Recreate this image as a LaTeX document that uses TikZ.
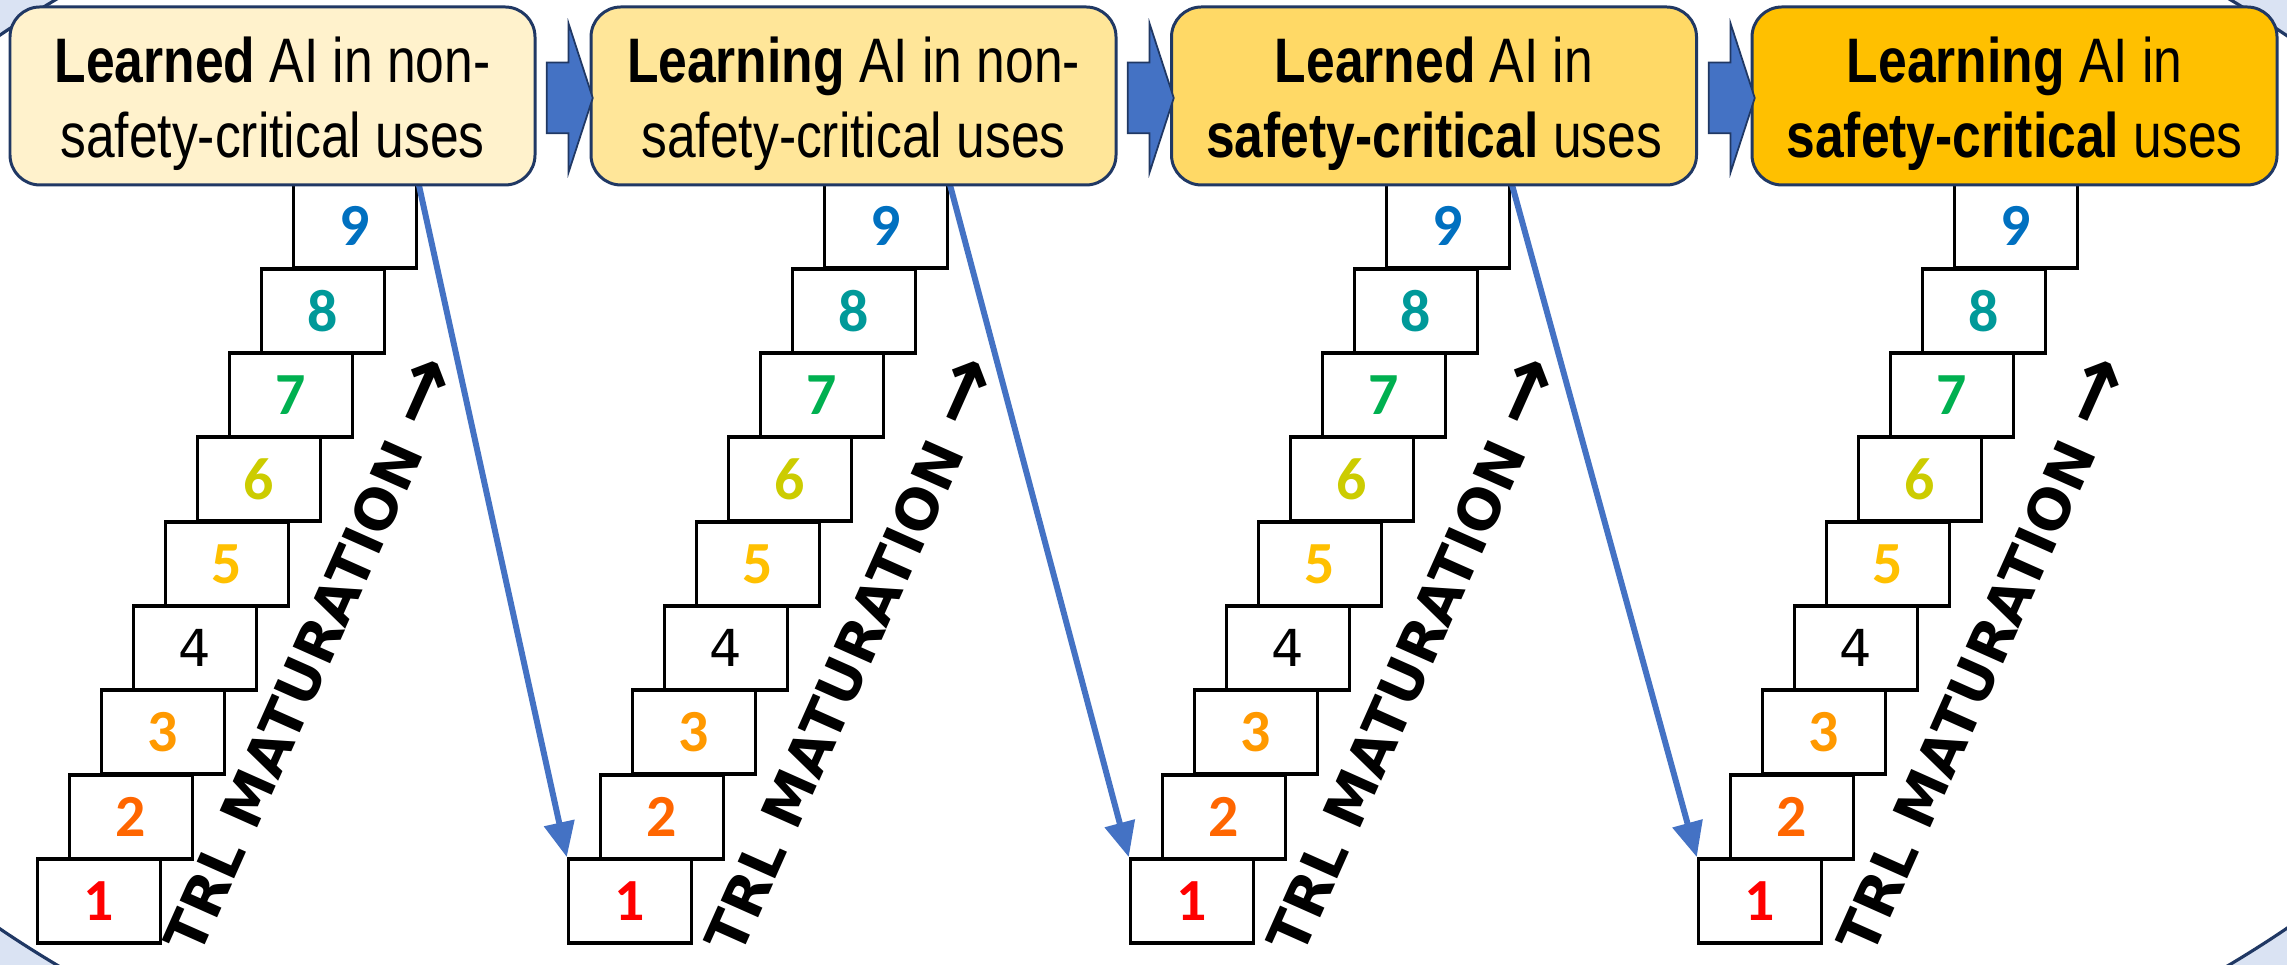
\documentclass[tikz,border=0pt]{standalone}
\usepackage{fontspec}
\usepackage{xcolor}
\usepackage{tikz}
\usetikzlibrary{arrows.meta,shapes.arrows}
\newfontfamily\titlefont{Liberation Sans}[FakeStretch=0.82]
\newfontfamily\digitfont{Carlito}
\newfontfamily\trlfont{DejaVu Sans}
\newcommand{\topstrut}{\rule{0pt}{17.5pt}}
\definecolor{navy}{HTML}{203864}
\definecolor{bgblue}{HTML}{DAE3F3}
\definecolor{arrblue}{HTML}{4472C4}
\definecolor{cream1}{HTML}{FFF2CC}
\definecolor{cream2}{HTML}{FFE699}
\definecolor{cream3}{HTML}{FFD966}
\definecolor{cream4}{HTML}{FFC000}
\definecolor{trl1}{HTML}{FF0000}
\definecolor{trl2}{HTML}{FF6600}
\definecolor{trl3}{HTML}{FF9900}
\definecolor{trl5}{HTML}{FFC000}
\definecolor{trl6}{HTML}{CCCC00}
\definecolor{trl7}{HTML}{00B050}
\definecolor{trl8}{HTML}{009999}
\definecolor{trl9}{HTML}{0070C0}

\begin{document}
\begin{tikzpicture}[
      every node/.style={align=center},
      stage/.style={draw=navy, line width=0.85pt, rounded corners=3mm,
                    minimum width=52.5mm, minimum height=17.8mm, inner sep=0pt,
                    font=\titlefont\fontsize{17.9}{21.5}\selectfont},
      stepbox/.style={draw, line width=1pt, fill=white, inner sep=0pt,
                      minimum width=12.3mm, minimum height=8.43mm,
                      font=\digitfont\bfseries\fontsize{17}{18}\selectfont},
      plain/.style={font=\trlfont\fontsize{14.5}{16}\selectfont},
      chev/.style={single arrow, draw=navy, line width=0.5pt, fill=arrblue,
                   minimum height=4.6mm, inner xsep=0pt, inner ysep=3.45mm,
                   single arrow head extend=3.9mm, single arrow tip angle=144},
      seq/.style={-{Triangle[length=3.5mm, width=3mm]}, draw=arrblue, line width=1.7pt},
      trl/.style={font=\trlfont\bfseries\fontsize{16}{18}\selectfont,
                  rotate=66, inner sep=0pt},
  ]

  \useasboundingbox (0,0) rectangle (22.87,9.65);
  \clip (0,0) rectangle (22.87,9.65);

  % Backdrop (light blue corners round a white oval)
  \fill[bgblue] (0,0) rectangle (22.87,9.65);
  \draw[navy, line width=0.9pt, fill=white] (11.43,4.83) ellipse [x radius=14.35, y radius=7.39];

  % Stairs, learned AI in non-safety-critical uses
  \node[stepbox, text=trl1] (a1) at ( 0.99, 0.64) {1};
  \node[stepbox, text=trl2] (a2) at ( 1.31, 1.48) {2};
  \node[stepbox, text=trl3] (a3) at ( 1.63, 2.33) {3};
  \node[stepbox, plain]     (a4) at ( 1.95, 3.17) {4};
  \node[stepbox, text=trl5] (a5) at ( 2.27, 4.01) {5};
  \node[stepbox, text=trl6] (a6) at ( 2.59, 4.86) {6};
  \node[stepbox, text=trl7] (a7) at ( 2.91, 5.70) {7};
  \node[stepbox, text=trl8] (a8) at ( 3.23, 6.54) {8};
  \node[stepbox, text=trl9] (a9) at ( 3.55, 7.39) {9};

  % Stairs, learning AI in non-safety-critical uses
  \node[stepbox, text=trl1] (b1) at ( 6.30, 0.64) {1};
  \node[stepbox, text=trl2] (b2) at ( 6.62, 1.48) {2};
  \node[stepbox, text=trl3] (b3) at ( 6.94, 2.33) {3};
  \node[stepbox, plain]     (b4) at ( 7.26, 3.17) {4};
  \node[stepbox, text=trl5] (b5) at ( 7.58, 4.01) {5};
  \node[stepbox, text=trl6] (b6) at ( 7.90, 4.86) {6};
  \node[stepbox, text=trl7] (b7) at ( 8.22, 5.70) {7};
  \node[stepbox, text=trl8] (b8) at ( 8.54, 6.54) {8};
  \node[stepbox, text=trl9] (b9) at ( 8.86, 7.39) {9};

  % Stairs, learned AI in safety-critical uses
  \node[stepbox, text=trl1] (c1) at (11.92, 0.64) {1};
  \node[stepbox, text=trl2] (c2) at (12.24, 1.48) {2};
  \node[stepbox, text=trl3] (c3) at (12.56, 2.33) {3};
  \node[stepbox, plain]     (c4) at (12.88, 3.17) {4};
  \node[stepbox, text=trl5] (c5) at (13.20, 4.01) {5};
  \node[stepbox, text=trl6] (c6) at (13.52, 4.86) {6};
  \node[stepbox, text=trl7] (c7) at (13.84, 5.70) {7};
  \node[stepbox, text=trl8] (c8) at (14.16, 6.54) {8};
  \node[stepbox, text=trl9] (c9) at (14.48, 7.39) {9};

  % Stairs, learning AI in safety-critical uses
  \node[stepbox, text=trl1] (d1) at (17.60, 0.64) {1};
  \node[stepbox, text=trl2] (d2) at (17.92, 1.48) {2};
  \node[stepbox, text=trl3] (d3) at (18.24, 2.33) {3};
  \node[stepbox, plain]     (d4) at (18.56, 3.17) {4};
  \node[stepbox, text=trl5] (d5) at (18.88, 4.01) {5};
  \node[stepbox, text=trl6] (d6) at (19.20, 4.86) {6};
  \node[stepbox, text=trl7] (d7) at (19.52, 5.70) {7};
  \node[stepbox, text=trl8] (d8) at (19.84, 6.54) {8};
  \node[stepbox, text=trl9] (d9) at (20.16, 7.39) {9};

  % Maturation labels along the stairs
  \node[trl] (trla) at ( 3.10, 3.10) {TRL MATURATION {\fontsize{24}{24}\selectfont→}};
  \node[trl] (trlb) at ( 8.51, 3.10) {TRL MATURATION {\fontsize{24}{24}\selectfont→}};
  \node[trl] (trlc) at (14.13, 3.10) {TRL MATURATION {\fontsize{24}{24}\selectfont→}};
  \node[trl] (trld) at (19.83, 3.10) {TRL MATURATION {\fontsize{24}{24}\selectfont→}};

  % Top of one staircase -> bottom of the next
  \draw[seq] (a9.north east) -- (b1.north west);
  \draw[seq] (b9.north east) -- (c1.north west);
  \draw[seq] (c9.north east) -- (d1.north west);

  % Stage headers
  \node[stage, fill=cream1] (lrnd)   at ( 2.725, 8.69) {\topstrut\textbf{Learned} AI in non-\\safety-critical uses};
  \node[stage, fill=cream2] (lrng)   at ( 8.535, 8.69) {\topstrut\textbf{Learning} AI in non-\\safety-critical uses};
  \node[stage, fill=cream3] (lrndsc) at (14.34,  8.69) {\topstrut\textbf{Learned} AI in\\\textbf{safety-critical} uses};
  \node[stage, fill=cream4] (lrngsc) at (20.145, 8.69) {\topstrut\textbf{Learning} AI in\\\textbf{safety-critical} uses};

  % Block arrows between headers
  \node[chev] (ar1) at ( 5.64, 8.67) {};
  \node[chev] (ar2) at (11.45, 8.67) {};
  \node[chev] (ar3) at (17.26, 8.67) {};

  \end{tikzpicture}
\end{document}
